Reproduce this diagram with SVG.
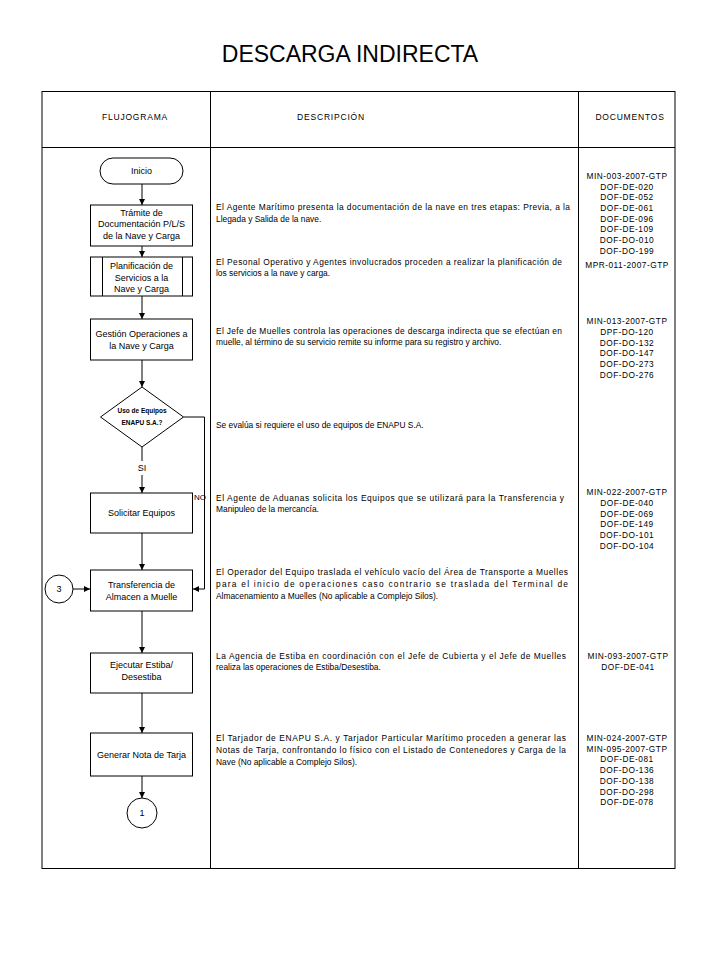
<svg xmlns="http://www.w3.org/2000/svg" width="720" height="960" viewBox="0 0 720 960">
<style>
text{font-family:"Liberation Sans",Arial,sans-serif;fill:#000}
.title{font-size:23px;text-anchor:middle}
.hdr{font-size:8.5px;letter-spacing:0.8px;text-anchor:middle}
.fc{font-size:9px;text-anchor:middle}
.lbl{font-size:8px}
.sm{font-size:6.5px;text-anchor:middle;font-weight:bold}
.desc{font-size:8.4px}
.doc{font-size:8.3px;letter-spacing:0.5px;text-anchor:middle}
.shape{fill:#fff;stroke:#000;stroke-width:1}
.grid{fill:none;stroke:#000;stroke-width:1}
.conn{fill:none;stroke:#000;stroke-width:1}
</style>
<defs>
<marker id="arr" markerUnits="userSpaceOnUse" markerWidth="7" markerHeight="7" refX="6" refY="3" orient="auto">
<path d="M0,0 L6,3 L0,6 z" fill="#000"/>
</marker>
</defs>
<rect width="720" height="960" fill="#fff"/>
<text class="title" x="350" y="62">DESCARGA INDIRECTA</text>

<g id="table">
<rect class="grid" x="42" y="91.5" width="633" height="777"/>
<line class="grid" x1="42" y1="147.5" x2="675" y2="147.5"/>
<line class="grid" x1="210.5" y1="91.5" x2="210.5" y2="868.5"/>
<line class="grid" x1="578.5" y1="91.5" x2="578.5" y2="868.5"/>
<text class="hdr" x="135" y="120">FLUJOGRAMA</text>
<text class="hdr" x="331" y="120">DESCRIPCIÓN</text>
<text class="hdr" x="630" y="120">DOCUMENTOS</text>
</g>

<g id="connectors">
<line class="conn" x1="142" y1="184" x2="142" y2="205" marker-end="url(#arr)"/>
<line class="conn" x1="142" y1="246" x2="142" y2="257" marker-end="url(#arr)"/>
<line class="conn" x1="142" y1="296" x2="142" y2="319" marker-end="url(#arr)"/>
<line class="conn" x1="142" y1="360" x2="142" y2="387" marker-end="url(#arr)"/>
<line class="conn" x1="142" y1="447" x2="142" y2="461"/>
<line class="conn" x1="142" y1="475" x2="142" y2="493" marker-end="url(#arr)"/>
<text class="fc" x="142" y="471">SI</text>
<path class="conn" d="M183.5,417 H204.5 V589 H193" marker-end="url(#arr)"/>
<text class="lbl" x="194" y="500">NO</text>
<line class="conn" x1="142" y1="533" x2="142" y2="570" marker-end="url(#arr)"/>
<line class="conn" x1="73" y1="589" x2="90" y2="589" marker-end="url(#arr)"/>
<line class="conn" x1="142" y1="611" x2="142" y2="653" marker-end="url(#arr)"/>
<line class="conn" x1="142" y1="693" x2="142" y2="733" marker-end="url(#arr)"/>
<line class="conn" x1="142" y1="776" x2="142" y2="798" marker-end="url(#arr)"/>
</g>

<g id="inicio">
<rect class="shape" x="100" y="158" width="83" height="26" rx="13" ry="13"/>
<text class="fc" x="141.5" y="174">Inicio</text>
</g>
<g id="tramite">
<rect class="shape" x="90.5" y="205" width="102" height="41"/>
<text class="fc" x="141.5" y="215.5">Trámite de</text>
<text class="fc" x="141.5" y="227">Documentación P/L/S</text>
<text class="fc" x="141.5" y="238.5">de la Nave y Carga</text>
</g>
<g id="planificacion">
<rect class="shape" x="90.5" y="257" width="102" height="39"/>
<line class="grid" x1="102.5" y1="257" x2="102.5" y2="296"/>
<line class="grid" x1="182.5" y1="257" x2="182.5" y2="296"/>
<text class="fc" x="141.5" y="269">Planificación de</text>
<text class="fc" x="141.5" y="280.5">Servicios a la</text>
<text class="fc" x="141.5" y="292">Nave y Carga</text>
</g>
<g id="gestion">
<rect class="shape" x="90.5" y="319" width="102" height="41"/>
<text class="fc" x="141.5" y="337">Gestión Operaciones a</text>
<text class="fc" x="141.5" y="349">la Nave y Carga</text>
</g>
<g id="decision">
<polygon class="shape" points="142,387 183.5,417 142,447 100.5,417"/>
<text class="sm" x="142" y="413">Uso de Equipos</text>
<text class="sm" x="142" y="425">ENAPU S.A.?</text>
</g>
<g id="solicitar">
<rect class="shape" x="90.5" y="493" width="102" height="40"/>
<text class="fc" x="141.5" y="516">Solicitar Equipos</text>
</g>
<g id="conector3">
<circle class="shape" cx="59" cy="589" r="14"/>
<text class="fc" x="59" y="592">3</text>
</g>
<g id="transferencia">
<rect class="shape" x="90.5" y="570" width="102" height="41"/>
<text class="fc" x="141.5" y="588">Transferencia de</text>
<text class="fc" x="141.5" y="600">Almacen a Muelle</text>
</g>
<g id="ejecutar">
<rect class="shape" x="90.5" y="653" width="102" height="40"/>
<text class="fc" x="141.5" y="668">Ejecutar Estiba/</text>
<text class="fc" x="141.5" y="680">Desestiba</text>
</g>
<g id="generar">
<rect class="shape" x="90.5" y="733" width="102" height="43"/>
<text class="fc" x="141.5" y="758">Generar Nota de Tarja</text>
</g>
<g id="conector1">
<circle class="shape" cx="142" cy="813" r="15"/>
<text class="fc" x="142" y="816">1</text>
</g>

<g id="descripcion">
<text class="desc" x="216" y="210" textLength="354" lengthAdjust="spacing">El Agente Marítimo presenta la documentación de la nave en tres etapas: Previa, a la</text>
<text class="desc" x="216" y="222">Llegada y Salida de la nave.</text>
<text class="desc" x="216" y="265" textLength="346" lengthAdjust="spacing">El Pesonal Operativo y Agentes involucrados proceden a realizar la planificación de</text>
<text class="desc" x="216" y="276">los servicios a la nave y carga.</text>
<text class="desc" x="216" y="334" textLength="346" lengthAdjust="spacing">El Jefe de Muelles controla las operaciones de descarga indirecta que se efectúan en</text>
<text class="desc" x="216" y="345">muelle, al término de su servicio remite su informe para su registro y archivo.</text>
<text class="desc" x="216" y="428">Se evalúa si requiere el uso de equipos de ENAPU S.A.</text>
<text class="desc" x="216" y="501" textLength="348" lengthAdjust="spacing">El Agente de Aduanas solicita los Equipos que se utilizará para la Transferencia y</text>
<text class="desc" x="216" y="512">Manipuleo de la mercancía.</text>
<text class="desc" x="216" y="575" textLength="352" lengthAdjust="spacing">El Operador del Equipo traslada el vehículo vacío del Área de Transporte a Muelles</text>
<text class="desc" x="216" y="587" textLength="352" lengthAdjust="spacing">para el inicio de operaciones caso contrario se traslada del Terminal de</text>
<text class="desc" x="216" y="599">Almacenamiento a Muelles (No aplicable a Complejo Silos).</text>
<text class="desc" x="216" y="659" textLength="350" lengthAdjust="spacing">La Agencia de Estiba en coordinación con el Jefe de Cubierta y el Jefe de Muelles</text>
<text class="desc" x="216" y="670">realiza las operaciones de Estiba/Desestiba.</text>
<text class="desc" x="216" y="741" textLength="350" lengthAdjust="spacing">El Tarjador de ENAPU S.A. y Tarjador Particular Marítimo proceden a generar las</text>
<text class="desc" x="216" y="753" textLength="350" lengthAdjust="spacing">Notas de Tarja, confrontando lo físico con el Listado de Contenedores y Carga de la</text>
<text class="desc" x="216" y="765">Nave (No aplicable a Complejo Silos).</text>
</g>

<g id="documentos">
<text class="doc" x="627" y="179">MIN-003-2007-GTP</text>
<text class="doc" x="627" y="189.5">DOF-DE-020</text>
<text class="doc" x="627" y="200">DOF-DE-052</text>
<text class="doc" x="627" y="211">DOF-DE-061</text>
<text class="doc" x="627" y="221.5">DOF-DE-096</text>
<text class="doc" x="627" y="232">DOF-DE-109</text>
<text class="doc" x="627" y="243">DOF-DO-010</text>
<text class="doc" x="627" y="253.5">DOF-DO-199</text>
<text class="doc" x="627" y="268">MPR-011-2007-GTP</text>
<text class="doc" x="627" y="324">MIN-013-2007-GTP</text>
<text class="doc" x="627" y="335">DPF-DO-120</text>
<text class="doc" x="627" y="345.5">DOF-DO-132</text>
<text class="doc" x="627" y="356">DOF-DO-147</text>
<text class="doc" x="627" y="367">DOF-DO-273</text>
<text class="doc" x="627" y="377.5">DOF-DO-276</text>
<text class="doc" x="627" y="495">MIN-022-2007-GTP</text>
<text class="doc" x="627" y="506">DOF-DE-040</text>
<text class="doc" x="627" y="516.5">DOF-DE-069</text>
<text class="doc" x="627" y="527">DOF-DE-149</text>
<text class="doc" x="627" y="538">DOF-DO-101</text>
<text class="doc" x="627" y="548.5">DOF-DO-104</text>
<text class="doc" x="628" y="659">MIN-093-2007-GTP</text>
<text class="doc" x="628" y="669.5">DOF-DE-041</text>
<text class="doc" x="627" y="741">MIN-024-2007-GTP</text>
<text class="doc" x="627" y="751.5">MIN-095-2007-GTP</text>
<text class="doc" x="627" y="762">DOF-DE-081</text>
<text class="doc" x="627" y="773">DOF-DO-136</text>
<text class="doc" x="627" y="783.5">DOF-DO-138</text>
<text class="doc" x="627" y="794.5">DOF-DO-298</text>
<text class="doc" x="627" y="805">DOF-DE-078</text>
</g>
</svg>
